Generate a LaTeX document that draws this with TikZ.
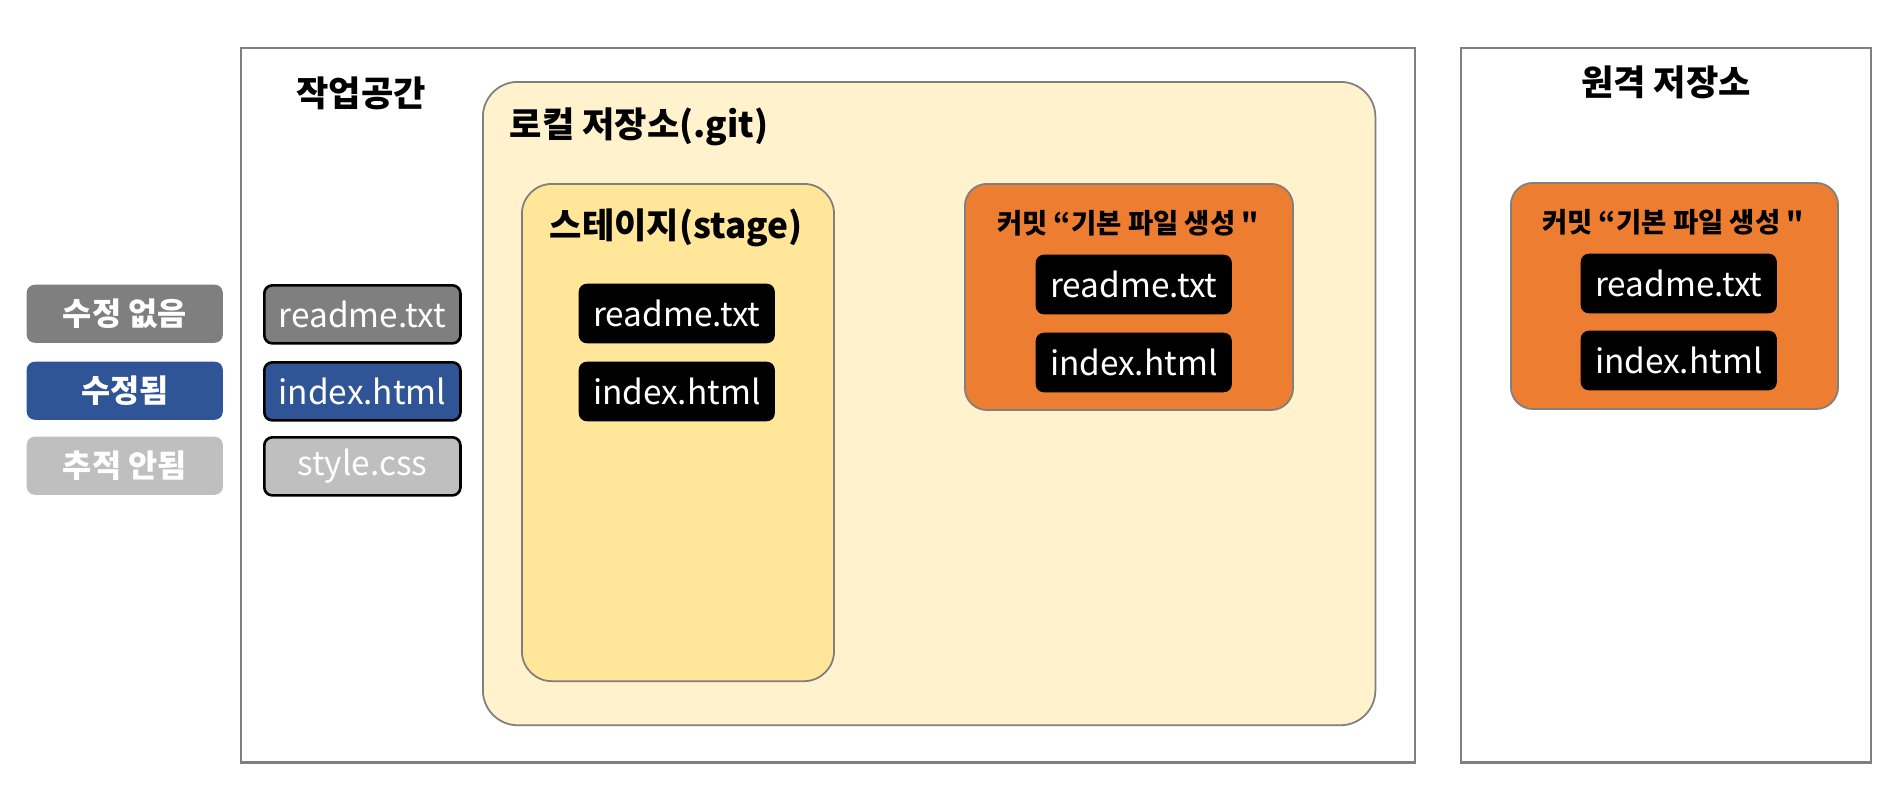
\documentclass[tikz,border=0pt]{standalone}
\usepackage{fontspec}
\setmainfont{Noto Sans CJK KR}[Ligatures=TeXOff]
\usetikzlibrary{positioning}
\definecolor{edgegray}{HTML}{7F7F7F}
\definecolor{repotint}{HTML}{FFF2CC}
\definecolor{stagetint}{HTML}{FFE699}
\definecolor{commitcol}{HTML}{ED7D31}
\definecolor{modblue}{HTML}{2F5597}
\definecolor{untrgray}{HTML}{BFBFBF}

\begin{document}
\begin{tikzpicture}[x=0.01cm,y=-0.01cm,
    area/.style={draw=edgegray,line width=0.6pt,fill=white,anchor=north west,inner sep=0pt},
    repobox/.style={draw=edgegray,line width=0.5pt,rounded corners=3.5mm,anchor=north west,inner sep=0pt},
    filebox/.style={fill=black,rounded corners=0.8mm,text=white,font=\fontsize{9.5}{11}\selectfont,
      minimum width=19.6mm,minimum height=5.95mm,anchor=north west,inner sep=0pt},
    wsfile/.style={draw=black,line width=0.75pt,rounded corners=0.8mm,text=white,font=\fontsize{9.5}{11}\selectfont,
      minimum width=19.6mm,minimum height=5.8mm,anchor=north west,inner sep=0pt},
    legend/.style={rounded corners=0.8mm,text=white,font=\bfseries\fontsize{9}{11}\selectfont,
      minimum width=19.6mm,minimum height=5.8mm,anchor=north west,inner sep=0pt},
    title/.style={font=\bfseries\fontsize{10}{12}\selectfont,inner sep=0pt},
    ctitle/.style={font=\bfseries\fontsize{7.8}{10}\selectfont,inner sep=0pt}]
  \useasboundingbox (0,0) rectangle (1891,787);
  % big areas
  \node[area,minimum width=117.3mm,minimum height=71.4mm] (work) at (240,47) {};
  \node[area,minimum width=41mm,minimum height=71.4mm] (remote) at (1460,47) {};
  \node[repobox,fill=repotint,minimum width=89.2mm,minimum height=64.3mm] (local) at (482,81) {};
  \node[repobox,fill=stagetint,rounded corners=3mm,minimum width=31.2mm,minimum height=49.7mm] (stage) at (521,183) {};
  \node[repobox,fill=commitcol,rounded corners=2.2mm,minimum width=32.8mm,minimum height=22.6mm] (lcommit) at (964,183) {};
  \node[repobox,fill=commitcol,rounded corners=2.2mm,minimum width=32.7mm,minimum height=22.6mm] (rcommit) at (1510,182) {};
  % titles
  \node[title] (worktitle) at (361,93) {작업공간};
  \node[title] (remotetitle) at (1666,82) {원격 저장소};
  \node[title,anchor=west] (localtitle) at (509,127) {로컬 저장소(.git)};
  \node[title] (stagetitle) at (676,228) {스테이지(stage)};
  \node[ctitle] (lctitle) at (1128,223) {커밋 “기본 파일 생성 "};
  \node[ctitle] (rctitle) at (1673,222) {커밋 “기본 파일 생성 "};
  % legend
  \node[legend,fill=edgegray] (nochange) at (26,284) {수정 없음};
  \node[legend,fill=modblue] (changed) at (26,361) {수정됨};
  \node[legend,fill=untrgray] (untracked) at (26,436) {추적 안됨};
  % working files
  \node[wsfile,fill=edgegray] (wsreadme) at (263,284) {readme.txt};
  \node[wsfile,fill=modblue] (wsindex) at (263,361) {index.html};
  \node[wsfile,fill=untrgray] (wsstyle) at (263,436) {style.css};
  % staged and committed files
  \node[filebox] (sreadme) at (578,283) {readme.txt};
  \node[filebox] (sindex) at (578,361) {index.html};
  \node[filebox] (lreadme) at (1035,254) {readme.txt};
  \node[filebox] (lindex) at (1035,332) {index.html};
  \node[filebox] (rreadme) at (1580,253) {readme.txt};
  \node[filebox] (rindex) at (1580,330) {index.html};
\end{tikzpicture}
\end{document}
